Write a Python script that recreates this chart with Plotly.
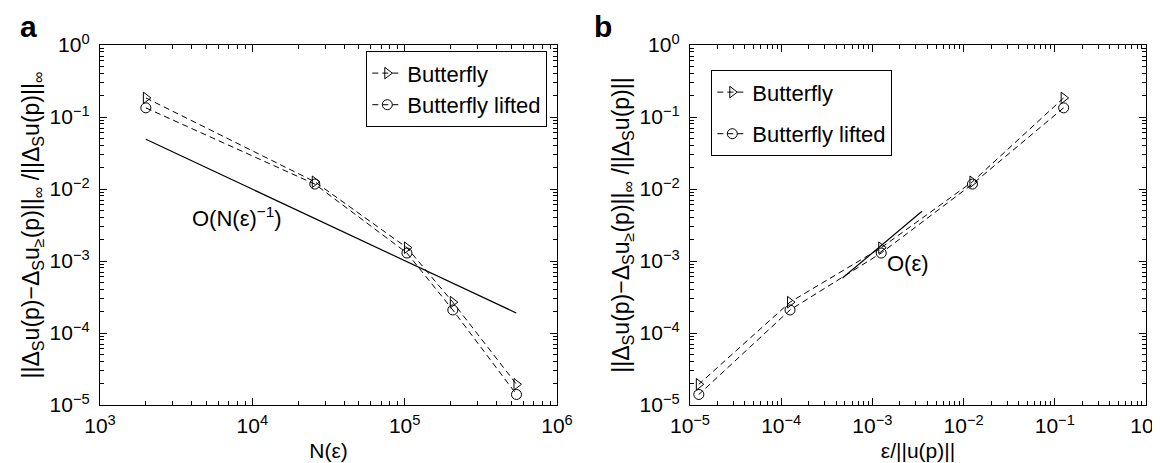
import plotly.graph_objects as go

# ---- data ----
n_eps = [2000, 25700, 103500, 207000, 542000]
eps_rel = [0.125, 0.0125, 0.00125, 0.000125, 0.0000125]
err_butterfly = [0.184, 0.0126, 0.00153, 2.68e-4, 1.94e-5]
err_lifted = [0.134, 0.0117, 0.00129, 2.09e-4, 1.4e-5]

ref_a_x = [2000, 540000]
ref_a_y = [0.049, 1.9e-4]
ref_b_x = [4.7e-4, 3.5e-3]
ref_b_y = [5.8e-4, 4.9e-3]

x_ticks_a = [1e3, 1e4, 1e5, 1e6]
x_ticks_a_text = ["10<sup>3</sup>", "10<sup>4</sup>", "10<sup>5</sup>", "10<sup>6</sup>"]
x_ticks_b = [1e-5, 1e-4, 1e-3, 1e-2, 1e-1, 1e0]
x_ticks_b_text = ["10<sup>−5</sup>", "10<sup>−4</sup>", "10<sup>−3</sup>",
                  "10<sup>−2</sup>", "10<sup>−1</sup>", "10<sup>0</sup>"]
y_ticks = [1e-5, 1e-4, 1e-3, 1e-2, 1e-1, 1e0]
y_ticks_text = ["10<sup>−5</sup>", "10<sup>−4</sup>", "10<sup>−3</sup>",
                "10<sup>−2</sup>", "10<sup>−1</sup>", "10<sup>0</sup>"]

FONT = "Liberation Sans, Arial, Helvetica, sans-serif"
W, H = 1160, 463
FS = 21


def minor_vals(e0, e1):
    return [m * 10.0 ** e for e in range(e0, e1) for m in range(2, 10)]


fig = go.Figure()

line_style = dict(color="black", width=1, dash="6px,4px")

# panel a
fig.add_trace(go.Scatter(x=n_eps, y=err_butterfly, mode="lines+markers", name="Butterfly",
                         line=line_style,
                         marker=dict(symbol="triangle-right-open", size=10, color="black",
                                     line=dict(width=1, color="black")),
                         xaxis="x", yaxis="y", legend="legend"))
fig.add_trace(go.Scatter(x=n_eps, y=err_lifted, mode="lines+markers", name="Butterfly lifted",
                         line=line_style,
                         marker=dict(symbol="circle-open", size=10, color="black",
                                     line=dict(width=1, color="black")),
                         xaxis="x", yaxis="y", legend="legend"))
fig.add_trace(go.Scatter(x=ref_a_x, y=ref_a_y, mode="lines", showlegend=False,
                         line=dict(color="black", width=1.2), xaxis="x", yaxis="y"))

# panel b
fig.add_trace(go.Scatter(x=eps_rel, y=err_butterfly, mode="lines+markers", name="Butterfly",
                         line=line_style, legendgroup="b1",
                         marker=dict(symbol="triangle-right-open", size=10, color="black",
                                     line=dict(width=1, color="black")),
                         xaxis="x2", yaxis="y2", legend="legend2"))
fig.add_trace(go.Scatter(x=eps_rel, y=err_lifted, mode="lines+markers", name="Butterfly lifted",
                         line=line_style, legendgroup="b2",
                         marker=dict(symbol="circle-open", size=10, color="black",
                                     line=dict(width=1, color="black")),
                         xaxis="x2", yaxis="y2", legend="legend2"))
fig.add_trace(go.Scatter(x=ref_b_x, y=ref_b_y, mode="lines", showlegend=False,
                         line=dict(color="black", width=1.2), xaxis="x2", yaxis="y2"))

axis_common = dict(type="log", showgrid=False, zeroline=False, showline=True,
                   linecolor="black", linewidth=1.3, mirror="allticks",
                   ticks="inside", ticklen=7, tickwidth=1, tickcolor="black",
                   tickmode="array", tickfont=dict(size=FS, color="black", family=FONT),
                   automargin=False)

ylab_a = ("||Δ<sub>S</sub>u(p)−Δ<sub>S</sub>u<sub>≥</sub>(p)||<sub>∞</sub> "
          "/||Δ<sub>S</sub>u(p)||<sub>∞</sub>")
ylab_b = ("||Δ<sub>S</sub>u(p)−Δ<sub>S</sub>u<sub>≥</sub>(p)||<sub>∞</sub> "
          "/||Δ<sub>S</sub>u(p)||")

yd = [(H - 397) / H, (H - 37) / H]
minor_common = dict(tickmode="array", ticks="inside", ticklen=4, tickcolor="black",
                    showgrid=False)

fig.update_layout(
    width=W, height=H,
    margin=dict(l=0, r=0, t=0, b=0),
    paper_bgcolor="white", plot_bgcolor="white",
    font=dict(family=FONT, size=FS, color="black"),
    xaxis=dict(axis_common, domain=[92 / W, 549 / W], range=[3, 6],
               tickvals=x_ticks_a, ticktext=x_ticks_a_text, ticklabelstandoff=2,
               minor=dict(minor_common, tickvals=minor_vals(3, 6)),
               title=dict(text="N(ε)", font=dict(size=FS), standoff=6),
               anchor="y"),
    yaxis=dict(axis_common, domain=yd, range=[-5, 0],
               tickvals=y_ticks, ticktext=y_ticks_text, ticklabelstandoff=5,
               minor=dict(minor_common, tickvals=minor_vals(-5, 0)),
               title=dict(text=ylab_a, font=dict(size=23), standoff=3),
               anchor="x"),
    xaxis2=dict(axis_common, domain=[682 / W, 1138 / W], range=[-5, 0],
                tickvals=x_ticks_b, ticktext=x_ticks_b_text, ticklabelstandoff=2,
                minor=dict(minor_common, tickvals=minor_vals(-5, 0)),
                title=dict(text="ε/||u(p)||", font=dict(size=FS), standoff=6),
                anchor="y2"),
    yaxis2=dict(axis_common, domain=yd, range=[-5, 0],
                tickvals=y_ticks, ticktext=y_ticks_text, ticklabelstandoff=5,
                minor=dict(minor_common, tickvals=minor_vals(-5, 0)),
                title=dict(text=ylab_b, font=dict(size=23), standoff=3),
                anchor="x2"),
    legend=dict(x=358 / W, y=1 - 43 / H, xanchor="left", yanchor="top",
                bgcolor="white", bordercolor="black", borderwidth=1.3,
                font=dict(size=22, family=FONT, color="black"), itemwidth=30),
    legend2=dict(x=703 / W, y=1 - 62 / H, xanchor="left", yanchor="top",
                 bgcolor="white", bordercolor="black", borderwidth=1.3,
                 tracegroupgap=10,
                 font=dict(size=22, family=FONT, color="black"), itemwidth=30),
    annotations=[
        dict(text="O(N(ε)<sup>−1</sup>)", x=3.90, y=-2.386, xref="x", yref="y",
             showarrow=False, font=dict(size=22)),
        dict(text="O(ε)", x=-2.86, y=-3.04, xref="x2", yref="y2", xanchor="left",
             showarrow=False, font=dict(size=22)),
        dict(text="<b>a</b>", x=10 / W, y=1, xref="paper", yref="paper",
             xanchor="left", yanchor="top", showarrow=False, font=dict(size=30)),
        dict(text="<b>b</b>", x=584 / W, y=1, xref="paper", yref="paper",
             xanchor="left", yanchor="top", showarrow=False, font=dict(size=30)),
    ],
)

fig.write_html("out.html")
